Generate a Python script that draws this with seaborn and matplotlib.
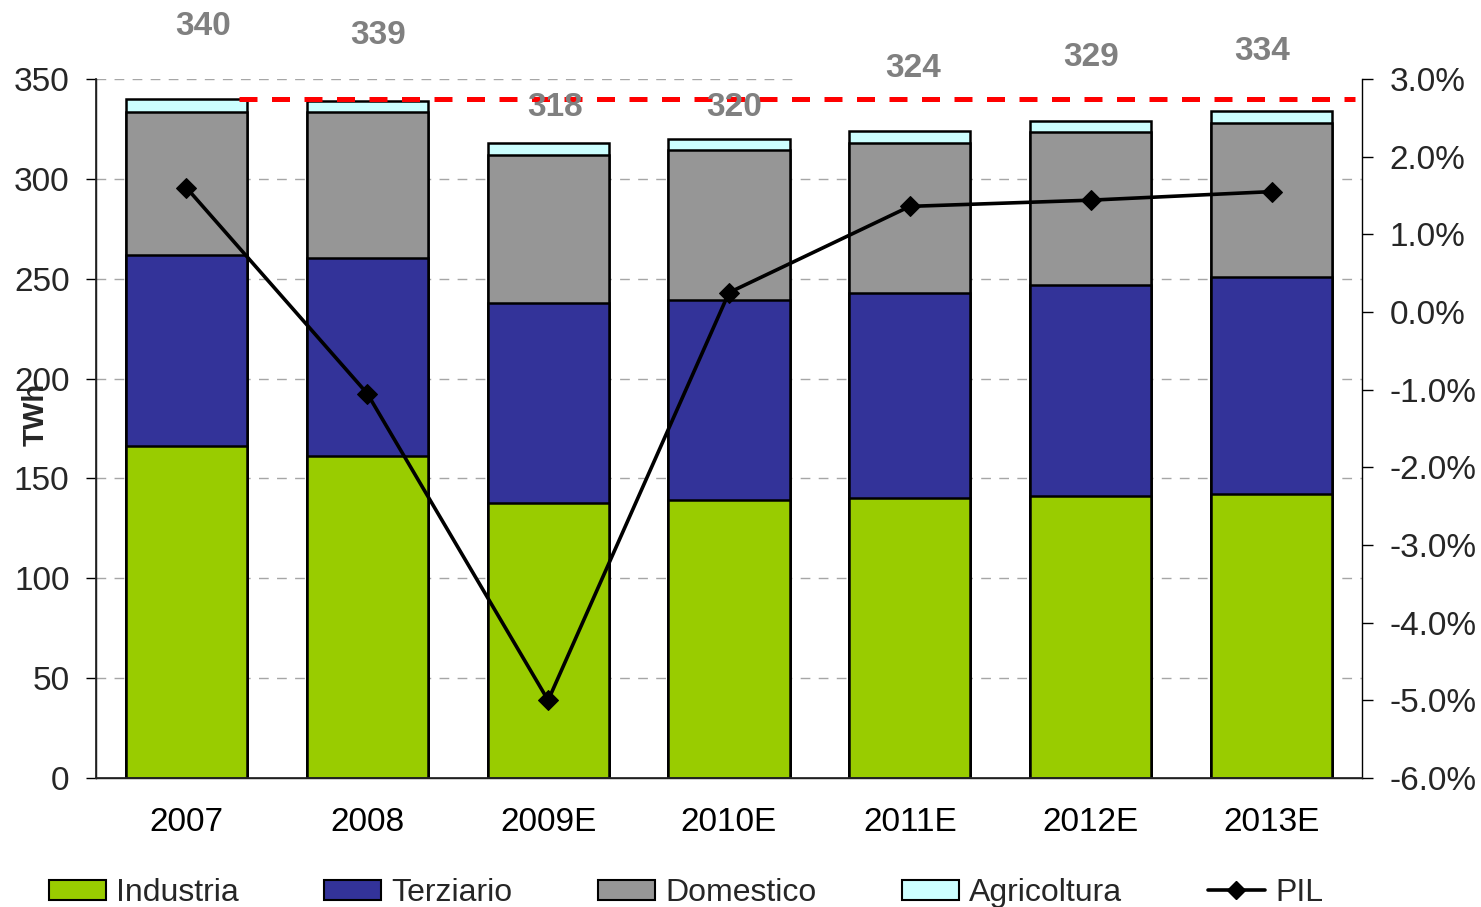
import numpy as np
import pandas as pd
import matplotlib
matplotlib.use("Agg")
import matplotlib.pyplot as plt
import matplotlib.patches as mpatches
from matplotlib.lines import Line2D
from matplotlib.ticker import FuncFormatter, FixedLocator
import seaborn as sns

# --- data -------------------------------------------------------------------
years = ["2007", "2008", "2009E", "2010E", "2011E", "2012E", "2013E"]
industria = [166, 161, 137.5, 139, 140, 141, 142]          # TWh
terziario = [96, 99.5, 100.5, 100.5, 103, 106, 109]         # TWh
domestico = [71.5, 73, 74, 75, 75, 76.5, 77]                # TWh
agricoltura = [6.5, 5.5, 6, 5.5, 6, 5.5, 6]                 # TWh
pil = [1.6, -1.05, -5.0, 0.25, 1.36, 1.44, 1.55]            # % change in GDP

series_names = ["Industria", "Terziario", "Domestico", "Agricoltura"]
series_colors = ["#99CC00", "#333399", "#969696", "#CCFFFF"]

# --- layout tweaks for total labels (x shift in categories, y gap in TWh) ----
label_dx = [0.09, 0.06, 0.04, 0.03, 0.02, 0.0, -0.05]
label_dy = [36.5, 33, 17.5, 15.5, 31.5, 32, 30]

sns.set_theme(style="white")
plt.rcParams["font.family"] = ["Liberation Sans", "DejaVu Sans"]

df = pd.DataFrame({"year": years, "Industria": industria, "Terziario": terziario,
                   "Domestico": domestico, "Agricoltura": agricoltura})
cum = df[series_names].cumsum(axis=1)
totals = cum["Agricoltura"].to_numpy()
x = np.arange(len(years))

fig = plt.figure(figsize=(14.81, 9.07), dpi=100)
ax = fig.add_axes([96 / 1481, 1 - 778 / 907, 1266 / 1481, 699 / 907])

# horizontal grid (behind bars)
for v in range(50, 351, 50):
    ax.axhline(v, xmax=(0.552 if v == 350 else 1.0), color="#A6A6A6", lw=1.0,
               ls=(0, (7, 6)), zorder=0)

# stacked bars: draw cumulative heights from the top layer down
for name, color in reversed(list(zip(series_names, series_colors))):
    sns.barplot(x=df["year"], y=cum[name], color=color, saturation=1, width=0.67,
                edgecolor="black", linewidth=1.8, errorbar=None, ax=ax, zorder=2)

# reference level at the 2007 total
ax.hlines(totals[0], 0.29, 6.46, colors="#FF0000", lw=3.6, ls=(0, (3.6, 2.9)), zorder=4)

# totals above the bars
for i, t in enumerate(totals):
    ax.text(i + label_dx[i], t + label_dy[i], f"{round(t):d}", ha="center", va="center",
            fontsize=24, fontweight="bold", color="#808080", zorder=5, clip_on=False)

ax.set_xlim(-0.5, len(years) - 0.5)
ax.set_ylim(0, 350)
ax.set_yticks(range(0, 351, 50))
ax.set_xticks(x)
ax.set_xticklabels(years)
ax.xaxis.set_minor_locator(FixedLocator(np.arange(-0.5, len(years), 1.0)))
ax.tick_params(axis="x", which="major", length=0, pad=21, labelsize=24, colors="black")
ax.tick_params(axis="x", which="minor", length=7, width=1, color="black", direction="out")
ax.tick_params(axis="y", length=7, width=1, color="black", direction="out", pad=12,
               labelsize=24, left=True)
ax.set_xlabel("")
ax.set_ylabel("TWh", fontsize=21, fontweight="bold")
ax.yaxis.set_label_coords(-0.037, 0.52)
for s in ["top", "right"]:
    ax.spines[s].set_visible(False)
for s in ["left", "bottom"]:
    ax.spines[s].set_color("black")
    ax.spines[s].set_linewidth(1)

# GDP growth on the secondary axis
ax2 = ax.twinx()
sns.lineplot(x=x, y=pil, ax=ax2, color="black", lw=2.6, marker="D", markersize=10,
             markeredgecolor="black", zorder=6)
ax2.set_ylim(-6, 3)
ax2.set_yticks(np.arange(-6, 3.01, 1))
ax2.yaxis.set_major_formatter(FuncFormatter(lambda v, _: f"{v:.1f}%"))
ax2.tick_params(axis="y", length=8, width=1, color="black", direction="out", pad=12,
                labelsize=24, right=True)
ax2.set_ylabel("")
ax2.set_xlabel("")
ax2.spines["top"].set_visible(False)
ax2.spines["right"].set_color("black")
ax2.spines["right"].set_linewidth(1)
ax2.set_xlim(-0.5, len(years) - 0.5)

# legend along the bottom
handles = [mpatches.Patch(facecolor=c, edgecolor="black", lw=1.5, label=n)
           for n, c in zip(series_names, series_colors)]
handles.append(Line2D([], [], color="black", lw=2.6, marker="D", markersize=9, label="PIL"))
fig.legend(handles=handles, loc="center left", bbox_to_anchor=(49 / 1481, 1 - 893 / 907),
           ncol=5, frameon=False, fontsize=23, handlelength=1.78, handleheight=0.6,
           handletextpad=0.32, columnspacing=2.68, borderpad=0, borderaxespad=0)

fig.savefig("out.png", dpi=100)
